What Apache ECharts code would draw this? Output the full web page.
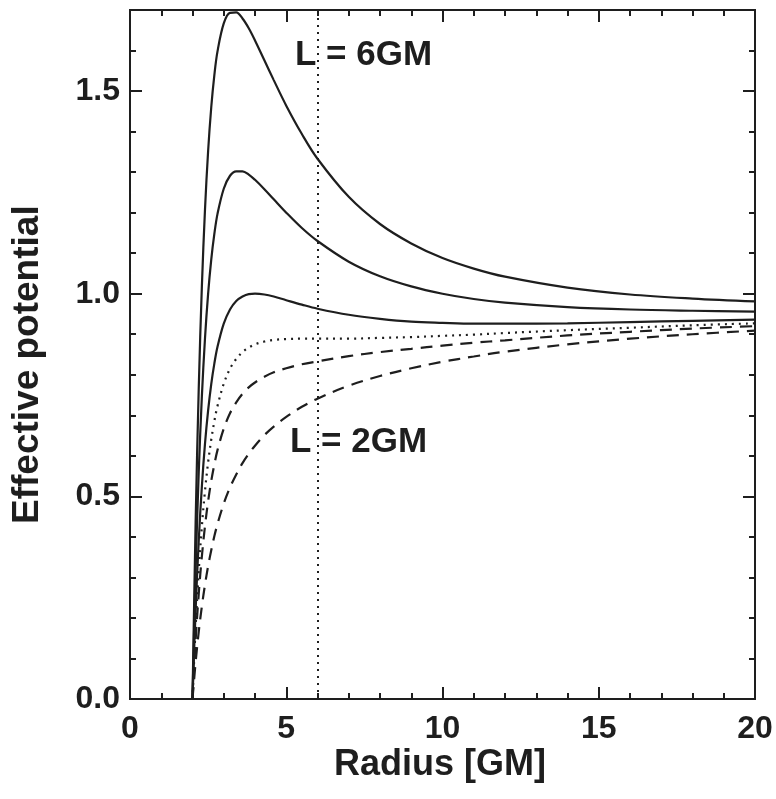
<!DOCTYPE html>
<html>
<head>
<meta charset="utf-8">
<script src="https://cdn.jsdelivr.net/npm/echarts@6/dist/echarts.min.js"></script>
<style>
  html, body { margin: 0; padding: 0; background: #fff; }
  #main { width: 776px; height: 799px; }
</style>
</head>
<body>
<div id="main"></div>
<script>
// radius in units of GM
var radius = [2, 2.1, 2.2, 2.3, 2.4, 2.5, 2.6, 2.7, 2.8, 3.0, 3.2, 3.4, 3.6, 3.8, 4.0, 4.3, 4.6, 5.0, 5.5, 6, 7, 8, 9, 10, 11, 12, 14, 16, 18, 20]

// effective potential, one list per angular momentum
var potL6 = [0, 0.436, 0.767, 1.018, 1.208, 1.352, 1.460, 1.540, 1.598, 1.667, 1.693, 1.694, 1.679, 1.655, 1.625, 1.576, 1.527, 1.464, 1.394, 1.333, 1.239, 1.172, 1.124, 1.088, 1.062, 1.042, 1.015, 0.998, 0.988, 0.981]
var potL5 = [0, 0.318, 0.561, 0.747, 0.890, 1.000, 1.084, 1.148, 1.197, 1.259, 1.291, 1.302, 1.302, 1.294, 1.281, 1.258, 1.233, 1.200, 1.162, 1.130, 1.079, 1.043, 1.018, 1.000, 0.987, 0.978, 0.967, 0.961, 0.958, 0.956]
var potL4 = [0, 0.220, 0.391, 0.525, 0.630, 0.712, 0.777, 0.828, 0.869, 0.926, 0.961, 0.982, 0.993, 0.999, 1.000, 0.998, 0.993, 0.984, 0.973, 0.963, 0.948, 0.938, 0.931, 0.928, 0.926, 0.926, 0.927, 0.930, 0.933, 0.936]
var potIsco = [0, 0.177, 0.316, 0.426, 0.514, 0.584, 0.640, 0.686, 0.723, 0.778, 0.815, 0.839, 0.856, 0.867, 0.875, 0.882, 0.886, 0.888, 0.889, 0.889, 0.889, 0.891, 0.893, 0.896, 0.899, 0.903, 0.910, 0.916, 0.922, 0.927]
var potL3 = [0, 0.145, 0.260, 0.352, 0.427, 0.488, 0.538, 0.579, 0.614, 0.667, 0.705, 0.732, 0.753, 0.769, 0.781, 0.795, 0.806, 0.816, 0.826, 0.833, 0.846, 0.856, 0.864, 0.872, 0.879, 0.885, 0.897, 0.906, 0.914, 0.920]
var potL2 = [0, 0.091, 0.166, 0.229, 0.282, 0.328, 0.367, 0.402, 0.432, 0.482, 0.522, 0.554, 0.582, 0.605, 0.625, 0.651, 0.672, 0.696, 0.721, 0.741, 0.773, 0.797, 0.816, 0.832, 0.845, 0.857, 0.875, 0.889, 0.900, 0.909]

var iscoRadius = 6
var xTicks = [0, 5, 10, 15, 20]
var yTicks = ['0.0', '0.5', '1.0', '1.5']

var ink = '#1e1e1e'
var font = 'Liberation Sans'

function pairs (ys) {
  return radius.map(function (r, i) { return [r, ys[i]] })
}

function curve (ys, dash) {
  return {
    type: 'line',
    data: pairs(ys),
    showSymbol: false,
    smooth: 0.35,
    lineStyle: { color: ink, width: 2.2, type: dash || 'solid' },
    silent: true
  }
}

// frame axis helper
function xAx (pos, labels) {
  return {
    type: 'value', position: pos, min: 0, max: 20, interval: 5,
    axisLine: { show: true, onZero: false, lineStyle: { color: ink, width: 2 } },
    axisTick: { show: true, inside: true, length: 12, lineStyle: { color: ink, width: 2 } },
    minorTick: { show: true, splitNumber: 5, length: 6, lineStyle: { color: ink, width: 2 } },
    splitLine: { show: false },
    axisLabel: {
      show: labels, margin: 14, color: ink, fontFamily: font, fontWeight: 'bold', fontSize: 32,
      formatter: function (v) { return xTicks.indexOf(v) >= 0 ? String(v) : '' }
    }
  }
}

function yAx (pos, interval, len, labels) {
  return {
    type: 'value', position: pos, min: 0, max: 1.7, interval: interval,
    axisLine: { show: true, onZero: false, lineStyle: { color: ink, width: 2 } },
    axisTick: { show: true, inside: true, length: len, lineStyle: { color: ink, width: 2 } },
    splitLine: { show: false },
    axisLabel: {
      show: labels, margin: 10, color: ink, fontFamily: font, fontWeight: 'bold', fontSize: 32,
      formatter: function (v) {
        var s = v.toFixed(1)
        return yTicks.indexOf(s) >= 0 ? s : ''
      }
    }
  }
}

var myChart = echarts.init(document.getElementById('main'))

var iscoSeries = curve(potIsco, [2, 5])
iscoSeries.markLine = {
  silent: true,
  symbol: ['none', 'none'],
  label: { show: false },
  lineStyle: { color: ink, width: 2, type: [2, 5] },
  data: [{ xAxis: iscoRadius }]
}

var option = {
  backgroundColor: '#fff',
  animation: false,
  grid: { left: 130, right: 21, top: 10, bottom: 100 },
  xAxis: [xAx('bottom', true), xAx('top', false)],
  yAxis: [
    yAx('left', 0.5, 12, true),
    yAx('right', 0.5, 12, false),
    yAx('left', 0.1, 6, false),
    yAx('right', 0.1, 6, false)
  ],
  graphic: [
    {
      type: 'text', left: 295, top: 38,
      style: { text: 'L = 6GM', font: 'bold 35px "Liberation Sans"', fill: ink }
    },
    {
      type: 'text', left: 290, top: 425,
      style: { text: 'L = 2GM', font: 'bold 35px "Liberation Sans"', fill: ink }
    },
    {
      type: 'text', left: 334, top: 747,
      style: { text: 'Radius [GM]', font: 'bold 36px "Liberation Sans"', fill: ink }
    },
    {
      type: 'text', x: 9, y: 524, rotation: Math.PI / 2,
      style: { text: 'Effective potential', font: 'bold 37px "Liberation Sans"', fill: ink, align: 'left', verticalAlign: 'top' }
    }
  ],
  series: [
    curve(potL6),
    curve(potL5),
    curve(potL4),
    iscoSeries,
    curve(potL3, [12, 8]),
    curve(potL2, [12, 8])
  ]
}

myChart.setOption(option)
</script>
</body>
</html>
